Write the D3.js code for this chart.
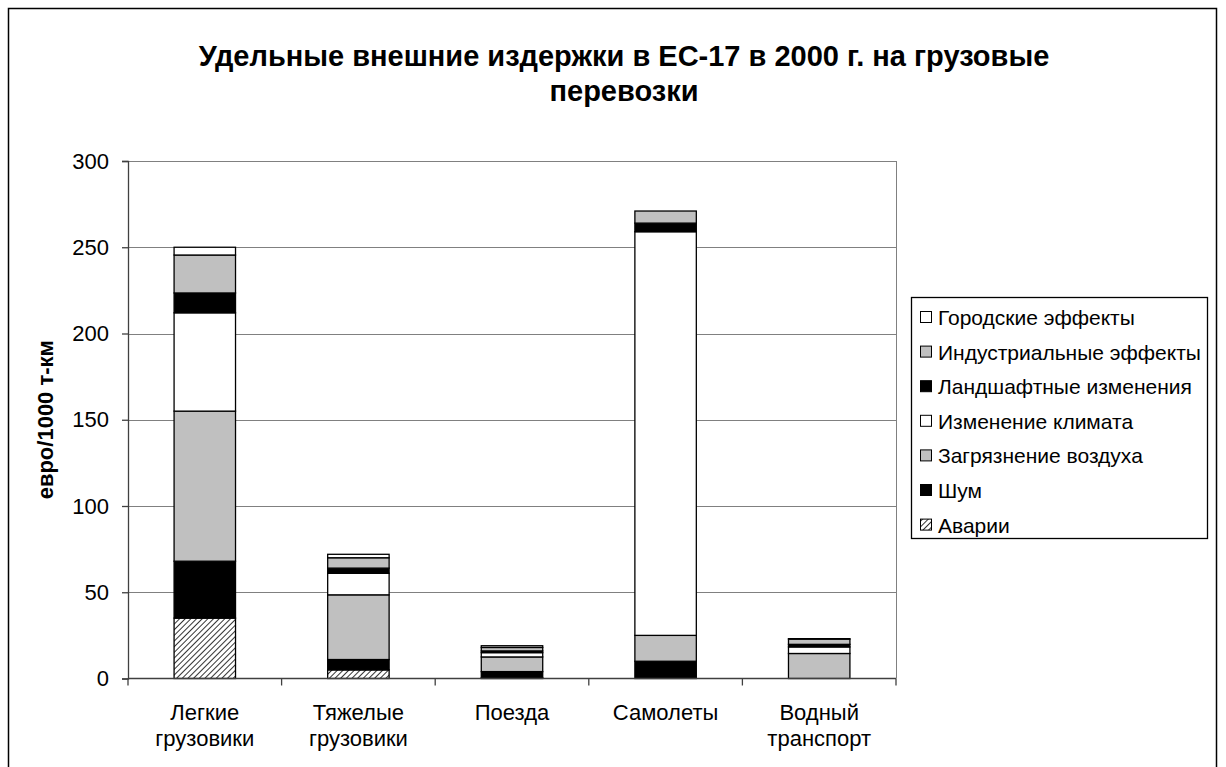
<!DOCTYPE html>
<html>
<head>
<meta charset="utf-8">
<script src="https://cdn.jsdelivr.net/npm/d3@7"></script>
<style>
  body { margin: 0; background: #fff; }
  svg text { font-family: "Liberation Sans", Arial, sans-serif; fill: #000; }
</style>
</head>
<body>
<svg width="1226" height="767"></svg>
<script>
var categories = [["Легкие", "грузовики"], ["Тяжелые", "грузовики"], ["Поезда"], ["Самолеты"], ["Водный", "транспорт"]];

// bottom to top
var seriesNames = ["Аварии", "Шум", "Загрязнение воздуха", "Изменение климата",
  "Ландшафтные изменения", "Индустриальные эффекты", "Городские эффекты"];

var accidents  = [35, 5, 0.5, 0, 0];
var noise      = [33, 6, 3.5, 10, 0];
var airPoll    = [87, 37.5, 8.5, 15, 14.5];
var climate    = [57, 12.5, 2.5, 234, 3.8];
var landscape  = [11.5, 3, 1, 5, 1.5];
var industrial = [22, 6, 2, 7, 3];
var urban      = [4.5, 2, 1, 0, 0.3];

var yTicks = [0, 50, 100, 150, 200, 250, 300];

var seriesValues = [accidents, noise, airPoll, climate, landscape, industrial, urban];
var fills = ["url(#hatch)", "#000", "#c0c0c0", "#fff", "#000", "#c0c0c0", "#fff"];

var svg = d3.select("svg");

var defs = svg.append("defs");
var pat = defs.append("pattern")
  .attr("id", "hatch")
  .attr("patternUnits", "userSpaceOnUse")
  .attr("width", 4).attr("height", 4)
  .attr("patternTransform", "rotate(45)");
pat.append("rect").attr("width", 4).attr("height", 4).attr("fill", "#fff");
pat.append("line").attr("x1", 0).attr("y1", 0).attr("x2", 0).attr("y2", 4)
  .attr("stroke", "#000").attr("stroke-width", 1.6);

// outer frame
svg.append("rect")
  .attr("x", 8.5).attr("y", 8.5).attr("width", 1208).attr("height", 780)
  .attr("fill", "none").attr("stroke", "#000").attr("stroke-width", 1.5);

var rows = categories.map(function(c, i) {
  var r = { key: i };
  seriesNames.forEach(function(s, j) { r[s] = seriesValues[j][i]; });
  return r;
});
var stacked = d3.stack().keys(seriesNames)(rows);

var plotLeft = 128, plotRight = 896, plotTop = 161, plotBottom = 678.5;

var x = d3.scaleBand().domain(d3.range(categories.length)).range([plotLeft, plotRight]).paddingInner(0.6).paddingOuter(0.3);
var y = d3.scaleLinear().domain([0, 300]).range([plotBottom, plotTop]);

// gridlines
svg.append("g").selectAll("line").data(yTicks.slice(1)).enter().append("line")
  .attr("x1", plotLeft).attr("x2", plotRight)
  .attr("y1", function(d) { return Math.round(y(d)) + 0.5; })
  .attr("y2", function(d) { return Math.round(y(d)) + 0.5; })
  .attr("stroke", "#808080").attr("stroke-width", 1);

// right border of plot
svg.append("line")
  .attr("x1", plotRight + 0.5).attr("x2", plotRight + 0.5)
  .attr("y1", y(300)).attr("y2", plotBottom)
  .attr("stroke", "#808080");

// bars
svg.append("g").selectAll("g").data(stacked).enter().append("g")
  .attr("fill", function(d, i) { return fills[i]; })
  .selectAll("rect").data(function(d) { return d.filter(function(p) { return p[1] - p[0] > 0; }); }).enter()
  .append("rect")
  .attr("x", function(d) { return x(d.data.key); })
  .attr("width", x.bandwidth())
  .attr("y", function(d) { return y(d[1]); })
  .attr("height", function(d) { return y(d[0]) - y(d[1]); })
  .attr("stroke", "#000").attr("stroke-width", 1.3);

// y axis
var yAxis = d3.axisLeft(y).tickValues(yTicks).tickSize(6).tickPadding(13);
var gy = svg.append("g").attr("transform", "translate(" + plotLeft + ",0)").call(yAxis);
gy.select(".domain").attr("stroke", "#404040").attr("stroke-width", 1.3);
gy.selectAll(".tick line").attr("stroke", "#404040").attr("stroke-width", 1.3);
gy.selectAll(".tick text").attr("font-size", 22).attr("font-family", "Liberation Sans, Arial, sans-serif");

// x axis
var xTickPos = d3.range(categories.length + 1).map(function(i) {
  return plotLeft + i * (plotRight - plotLeft) / categories.length;
});
var gx = svg.append("g");
gx.append("line").attr("x1", plotLeft).attr("x2", plotRight)
  .attr("y1", plotBottom).attr("y2", plotBottom)
  .attr("stroke", "#404040").attr("stroke-width", 1.5);
gx.selectAll(".tk").data(xTickPos).enter().append("line")
  .attr("x1", function(d) { return d; }).attr("x2", function(d) { return d; })
  .attr("y1", plotBottom).attr("y2", plotBottom + 7)
  .attr("stroke", "#404040").attr("stroke-width", 1.3);

var xl = svg.append("g").selectAll("text").data(categories).enter().append("text")
  .attr("text-anchor", "middle")
  .attr("font-size", 22)
  .attr("x", function(d, i) { return x(i) + x.bandwidth() / 2; })
  .attr("y", 720);
xl.selectAll("tspan").data(function(d) { return d; }).enter().append("tspan")
  .attr("x", function() { return d3.select(this.parentNode).attr("x"); })
  .attr("dy", function(d, i) { return i === 0 ? 0 : 26; })
  .text(function(d) { return d; });

// y label
svg.append("text")
  .attr("transform", "translate(53," + ((plotTop + plotBottom) / 2) + ") rotate(-90)")
  .attr("text-anchor", "middle")
  .attr("font-size", 22).attr("font-weight", "bold")
  .text("евро/1000 т-км");

// title
var title = svg.append("text").attr("text-anchor", "middle").attr("font-size", 29).attr("font-weight", "bold");
title.append("tspan").attr("x", 624).attr("y", 66).text("Удельные внешние издержки в ЕС-17 в 2000 г. на грузовые");
title.append("tspan").attr("x", 624).attr("y", 101).text("перевозки");

// legend
var lg = svg.append("g");
lg.append("rect").attr("x", 911.5).attr("y", 297.5).attr("width", 296).attr("height", 241)
  .attr("fill", "#fff").attr("stroke", "#000").attr("stroke-width", 1.3);
var legendOrder = seriesNames.map(function(s, i) { return i; }).reverse();
var items = lg.selectAll("g.item").data(legendOrder).enter().append("g")
  .attr("transform", function(d, i) { return "translate(0," + (317 + i * 34.6) + ")"; });
items.append("rect")
  .attr("x", 920.5).attr("y", -5.5).attr("width", 11).attr("height", 11)
  .attr("fill", function(d) { return fills[d]; })
  .attr("stroke", "#000").attr("stroke-width", 1);
items.append("text")
  .attr("x", 938).attr("y", 8)
  .attr("font-size", 21)
  .text(function(d) { return seriesNames[d]; });
</script>
</body>
</html>
